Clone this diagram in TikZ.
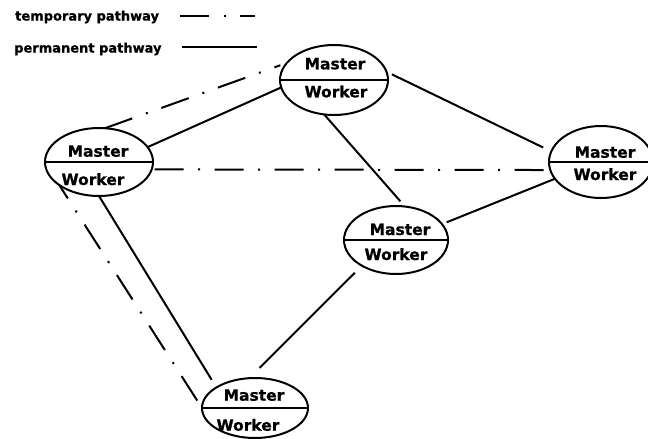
\documentclass[tikz,border=0pt]{standalone}
\usepackage{fontspec}
\setmainfont{DejaVu Sans}
\newfontfamily\heavyfont[BoldFeatures={FakeBold=0.8}]{DejaVu Sans}
\usetikzlibrary{shapes.geometric}
\tikzset{
  ell/.style={ellipse, draw, line width=2pt, minimum width=#1, inner sep=0pt, outer sep=0pt},
  lbl/.style={anchor=base, inner sep=0pt, font=\heavyfont\fontsize{15.5}{18}\selectfont\bfseries},
  leg/.style={anchor=base west, inner sep=0pt, font=\heavyfont\fontsize{13}{15}\selectfont\bfseries},
  divider/.style={line width=2pt},
  perm/.style={line width=2pt},
  temp/.style={line width=2pt, dash pattern=on 29pt off 14.5pt on 2pt off 14.5pt}
}
\begin{document}
\begin{tikzpicture}[x=1pt,y=-1pt]
\useasboundingbox (0,0) rectangle (648,439);
% legend
\node[leg] (lt) at (15,20.5) {temporary pathway};
\node[leg] (lp) at (14,52.5) {permanent pathway};
\coordinate (lt1) at (180,16); \coordinate (lt2) at (255,16);
\coordinate (lp1) at (182,47); \coordinate (lp2) at (257,47);
\draw[temp] (lt1) -- (lt2);
\draw[perm] (lp1) -- (lp2);
% nodes
\node[ell=108pt, minimum height=68pt] (A) at (99,162) {};
\node[ell=108pt, minimum height=70pt] (B) at (334,80) {};
\node[ell=104pt, minimum height=72pt] (C) at (601,162) {};
\node[ell=104pt, minimum height=68pt] (D) at (396,240) {};
\node[ell=106pt, minimum height=60pt] (E) at (255,408) {};
\foreach \n in {A,B,C,D,E} {\draw[divider] (\n.west) -- (\n.east);}
\node[lbl] (Am) at (98,156.7) {Master};
\node[lbl] (Aw) at (93,185) {Worker};
\node[lbl] (Bm) at (335,69.3) {Master};
\node[lbl] (Bw) at (336,97.3) {Worker};
\node[lbl] (Cm) at (605,157.7) {Master};
\node[lbl] (Cw) at (605,180) {Worker};
\node[lbl] (Dm) at (400,235) {Master};
\node[lbl] (Dw) at (396,260) {Worker};
\node[lbl] (Em) at (254,400.7) {Master};
\node[lbl] (Ew) at (248,430.7) {Worker};
% permanent pathways
\draw[perm] (A.17) -- (B.188);
\draw[perm, shorten <=6pt, shorten >=9pt] (B.9.5) -- (C.168.7);
\draw[perm, shorten >=7pt] (B.254) -- (D.75);
\draw[perm, shorten <=5pt] (D.19) -- (C.200);
\draw[perm, shorten <=10pt, shorten >=14.5pt] (D.217) -- (E.101.8);
\draw[perm, shorten >=9pt] (A.270) -- (E.152.8);
% temporary pathways
\draw[temp, shorten >=7pt] (A.80) -- (B.160);
\draw[temp, shorten <=3pt] (A.-8.7) -- (C.189);
\draw[temp, dash phase=13pt, shorten >=3pt] (A.210) -- (E.180);
\end{tikzpicture}
\end{document}
